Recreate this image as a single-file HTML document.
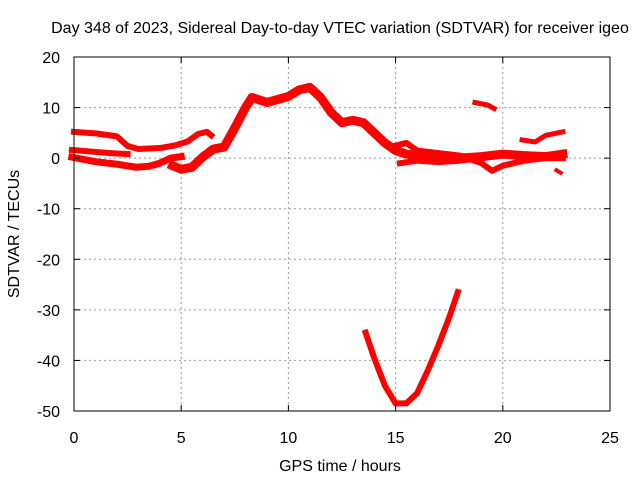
<!DOCTYPE html>
<html><head><meta charset="utf-8"><style>
body{margin:0;background:#fff}
text{font-family:"Liberation Sans",sans-serif;font-size:16px;fill:#000}
</style></head><body>
<svg id="c" width="640" height="480">
<rect width="640" height="480" fill="#fff"/>
<g id="grid"></g>
<g id="marks"></g>
<rect x="74" y="57" width="536" height="354" fill="none" stroke="#000" stroke-width="1"/>
<g id="ticks"></g>
<text x="340" y="33" text-anchor="middle">Day 348 of 2023, Sidereal Day-to-day VTEC variation (SDTVAR) for receiver igeo</text>
<text x="340" y="471" text-anchor="middle">GPS time / hours</text>
<text transform="translate(19,234) rotate(-90)" text-anchor="middle">SDTVAR / TECUs</text>
</svg>
<script>
const xTicks=[0,5,10,15,20,25];
const yTicks=[20,10,0,-10,-20,-30,-40,-50];
const t1x=[0,1,2,2.5,3,4,4.7,5.3,5.8,6.2,6.4];
const t1y=[5.2,4.9,4.3,2.4,1.8,2.0,2.5,3.3,4.8,5.2,4.5];
const t2x=[-0.1,0.8,1.7,2.5];
const t2y=[1.6,1.3,1.0,0.8];
const t3x=[-0.1,1,2,2.9,3.5,4,4.5,5];
const t3y=[0.2,-0.7,-1.2,-1.8,-1.6,-1,0,0.3];
const t4x=[4.6,5,5.5,6,6.5,7,7.5,8,8.3,9,10,10.5,11,11.5,12,12.5,13,13.5,14,14.5,15,15.5,16,17,18,19,20,21,22,22.8];
const t4y=[-1.5,-2.2,-1.8,0.2,1.8,2.2,6,10,12,11,12.2,13.5,14,12,9,7,7.5,7,5,3,1.5,0.8,0.5,0.3,0,0.3,0.8,0.5,0.3,0.8];
const t5x=[15,15.5,16,17,18,19,19.5,20,21,22,22.8];
const t5y=[2.5,3,1.5,1,0.5,-1,-2.5,-1.5,-0.5,0,0];
const t6x=[15.2,16,17,18,19];
const t6y=[-1,-0.5,-0.8,-0.5,0];
const t7x=[18.7,19.3,19.6];
const t7y=[11,10.5,9.8];
const t8x=[20.9,21.5,22,22.8];
const t8y=[3.6,3.2,4.5,5.2];
const t9x=[22.5,22.7];
const t9y=[-2.4,-2.9];
const t10x=[13.6,14,14.5,15,15.5,16,16.5,17,17.5,17.9];
const t10y=[-34.5,-39.5,-45,-48.5,-48.5,-46.5,-42,-37,-31.5,-26.5];
const tracks=[[t1x,t1y],[t2x,t2y],[t3x,t3y],[t4x,t4y],[t5x,t5y],[t6x,t6y],[t7x,t7y],[t8x,t8y],[t9x,t9y],[t10x,t10y]];
const widths=[6,6,7,9,6,6,5,5,4,6];
const X=v=>74+v*536/25, Y=v=>57+(20-v)*354/70;
const NS="http://www.w3.org/2000/svg";
const grid=document.getElementById('grid'),ticks=document.getElementById('ticks'),marks=document.getElementById('marks');
function mk(tag,a,p){const e=document.createElementNS(NS,tag);for(const k in a)e.setAttribute(k,a[k]);p.appendChild(e);return e;}
xTicks.forEach(v=>{const x=X(v);
 if(v>0&&v<25){const l=mk('line',{x1:x,x2:x,y1:57,y2:411,stroke:'#999','stroke-dasharray':'2,3'},grid);
 
 }
 mk('line',{x1:x,x2:x,y1:411,y2:405,stroke:'#000'},ticks);mk('line',{x1:x,x2:x,y1:57,y2:63,stroke:'#000'},ticks);
 const t=mk('text',{x:x,y:443,'text-anchor':'middle'},ticks);t.textContent=v;
 
 });
yTicks.forEach(v=>{const y=Y(v);
 if(v<20&&v>-50){const l=mk('line',{x1:74,x2:610,y1:y,y2:y,stroke:'#999','stroke-dasharray':'2,3'},grid);
 
 }
 mk('line',{x1:74,x2:80,y1:y,y2:y,stroke:'#000'},ticks);mk('line',{x1:610,x2:604,y1:y,y2:y,stroke:'#000'},ticks);
 const t=mk('text',{x:60,y:y+6,'text-anchor':'end'},ticks);t.textContent=v;
 
 });
tracks.forEach((tr,i)=>{const pts=tr[0].map((x,j)=>X(x)+','+Y(tr[1][j])).join(' ');
 const p=mk('polyline',{points:pts,fill:'none',stroke:'#f00','stroke-width':widths[i],'stroke-linejoin':'round','stroke-linecap':'square'},marks);
 
 });
</script>
</body></html>
